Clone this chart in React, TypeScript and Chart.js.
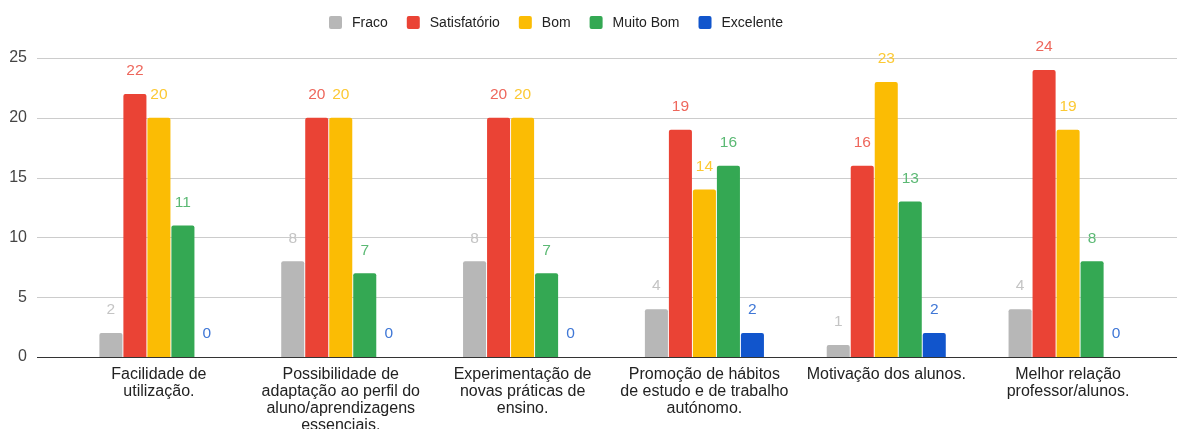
import React, { useEffect, useRef } from 'react';
import { Chart, registerables } from 'chart.js';
Chart.register(...registerables);

const categories: string[][] = [
  ['Facilidade de', 'utilização.'],
  ['Possibilidade de', 'adaptação ao perfil do', 'aluno/aprendizagens', 'essenciais.'],
  ['Experimentação de', 'novas práticas de', 'ensino.'],
  ['Promoção de hábitos', 'de estudo e de trabalho', 'autónomo.'],
  ['Motivação dos alunos.'],
  ['Melhor relação', 'professor/alunos.'],
];
const seriesNames = ['Fraco', 'Satisfatório', 'Bom', 'Muito Bom', 'Excelente'];
const fraco = [2, 8, 8, 4, 1, 4];
const satisfatorio = [22, 20, 20, 19, 16, 24];
const bom = [20, 20, 20, 14, 23, 19];
const muitoBom = [11, 7, 7, 16, 13, 8];
const excelente = [0, 0, 0, 2, 2, 0];
const yTicks = [0, 5, 10, 15, 20, 25];

const colors = ['#b7b7b7', '#ea4335', '#fbbc04', '#34a853', '#1155cc'];
const labelColors = ['#c4c4c4', '#ee675c', '#fcc934', '#5bb974', '#3f77d6'];
const FONT = 'Arial, "Liberation Sans", sans-serif';

const gridPlugin = {
  id: 'customGrid',
  beforeDatasetsDraw(chart: any) {
    const { ctx, chartArea, scales } = chart;
    const y = scales.y;
    const left = chartArea.left - 31;
    const right = chart.width - 1;
    ctx.save();
    ctx.lineWidth = 1;
    ctx.strokeStyle = '#cccccc';
    yTicks.forEach((v) => {
      if (v === 0) return;
      const py = Math.round(y.getPixelForValue(v)) + 0.5;
      ctx.beginPath();
      ctx.moveTo(left, py);
      ctx.lineTo(right, py);
      ctx.stroke();
    });
    ctx.restore();
  },
  afterDatasetsDraw(chart: any) {
    const { ctx, chartArea, scales } = chart;
    const y = scales.y;
    const left = chartArea.left - 31;
    const right = chart.width - 1;
    ctx.save();
    ctx.lineWidth = 1;
    ctx.strokeStyle = '#333333';
    const py = Math.round(y.getPixelForValue(0)) + 0.5;
    ctx.beginPath();
    ctx.moveTo(left, py);
    ctx.lineTo(right, py);
    ctx.stroke();

    // data labels
    ctx.font = '15.5px ' + FONT;
    ctx.textAlign = 'center';
    ctx.textBaseline = 'middle';
    chart.data.datasets.forEach((ds: any, i: number) => {
      const meta = chart.getDatasetMeta(i);
      meta.data.forEach((el: any, j: number) => {
        ctx.fillStyle = labelColors[i];
        ctx.fillText(String(ds.data[j]), el.x, el.y - 23);
      });
    });

    // legend
    ctx.font = '14px ' + FONT;
    ctx.textBaseline = 'middle';
    ctx.textAlign = 'left';
    const box = 13;
    const gapBoxText = 10;
    const gapItems = 19;
    const widths = seriesNames.map((n) => box + gapBoxText + ctx.measureText(n).width);
    const total = widths.reduce((a, b) => a + b, 0) + gapItems * (seriesNames.length - 1);
    let x = 556 - total / 2;
    const cy = 22.5;
    seriesNames.forEach((n, i) => {
      ctx.fillStyle = colors[i];
      ctx.beginPath();
      if ((ctx as any).roundRect) {
        (ctx as any).roundRect(x, cy - box / 2, box, box, 2);
      } else {
        ctx.rect(x, cy - box / 2, box, box);
      }
      ctx.fill();
      ctx.fillStyle = '#222222';
      ctx.fillText(n, x + box + gapBoxText, cy + 0.5);
      x += widths[i] + gapItems;
    });
    ctx.restore();
  },
};

export default function App() {
  const ref = useRef<HTMLCanvasElement | null>(null);
  useEffect(() => {
    if (!ref.current) return;
    const values = [fraco, satisfatorio, bom, muitoBom, excelente];
    const chart = new Chart(ref.current, {
      type: 'bar',
      data: {
        labels: categories,
        datasets: seriesNames.map((name, i) => ({
          label: name,
          data: values[i],
          backgroundColor: colors[i],
          borderWidth: 0,
          borderRadius: { topLeft: 2, topRight: 2, bottomLeft: 0, bottomRight: 0 },
          borderSkipped: 'bottom',
          categoryPercentage: 0.66,
          barPercentage: 0.96,
        })),
      },
      options: {
        animation: false,
        responsive: true,
        maintainAspectRatio: false,
        layout: { padding: { left: 0, right: 19, top: 58, bottom: 0 } },
        plugins: {
          legend: { display: false },
          tooltip: { enabled: false },
        },
        scales: {
          x: {
            grid: { display: false, drawTicks: false },
            border: { display: false },
            ticks: {
              color: '#222222',
              font: { family: FONT, size: 16, lineHeight: '17px' },
              padding: 9,
              maxRotation: 0,
              minRotation: 0,
              autoSkip: false,
            },
            afterFit: (scale: any) => {
              scale.height = 72;
            },
          },
          y: {
            min: 0,
            max: 25,
            grid: { display: false, drawTicks: false },
            border: { display: false },
            ticks: {
              stepSize: 5,
              color: '#444444',
              font: { family: FONT, size: 16 },
              padding: 41,
            },
            afterFit: (scale: any) => {
              scale.width = 68;
            },
          },
        },
      },
      plugins: [gridPlugin],
    });
    return () => chart.destroy();
  }, []);

  return (
    <div style={{ position: 'fixed', left: 0, top: 0, width: 1178, height: 429, background: '#fff' }}>
      <canvas ref={ref} />
    </div>
  );
}
